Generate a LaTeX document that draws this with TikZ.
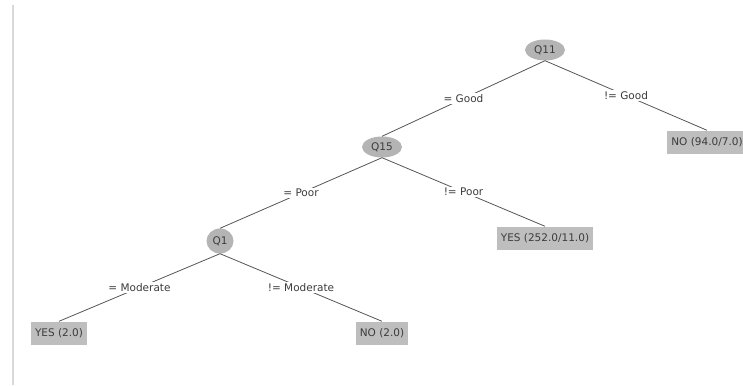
\documentclass[tikz,border=0pt]{standalone}
\usepackage{fontspec}
\usetikzlibrary{shapes.geometric}
\newfontfamily\dlgfont{DejaVu Sans}
\definecolor{nodegray}{HTML}{B4B4B4}
\definecolor{leafgray}{HTML}{BEBEBE}
\definecolor{edgegray}{HTML}{555555}
\definecolor{textgray}{HTML}{3C3C3C}
\tikzstyle{split}=[ellipse,fill=nodegray,minimum width=40pt,minimum height=21pt,inner sep=0pt,text=textgray]
\tikzstyle{leaf}=[rectangle,fill=leafgray,minimum height=23pt,inner xsep=4pt,inner ysep=0pt,text=textgray]
\tikzstyle{cond}=[fill=white,inner sep=1.5pt,text=textgray]

\begin{document}
\begin{tikzpicture}[x=1pt,y=-1pt,font=\dlgfont\fontsize{10.5}{12}\selectfont]
    \useasboundingbox (0,0) rectangle (743,385);
    \clip (0,0) rectangle (743,385);
    \draw[line width=2.5pt,black!15] (13,5) -- (13,385);
    \node[split] (q11) at (545,50)  {Q11};
    \node[split] (q15) at (382,147) {Q15};
    \node[split,minimum width=27pt,minimum height=25pt] (q1) at (220,241) {Q1};
    \node[leaf] (no94) at (707,142) {NO (94.0/7.0)};
    \node[leaf] (yes252) at (545,238) {YES (252.0/11.0)};
    \node[leaf] (yes2) at (59,333) {YES (2.0)};
    \node[leaf] (no2) at (382,333) {NO (2.0)};

    \foreach \from/\to/\lbl in {q11/q15/{= Good},q11/no94/{!= Good},q15/q1/{= Poor},q15/yes252/{!= Poor},q1/yes2/{= Moderate},q1/no2/{!= Moderate}}
    \draw[edgegray,line width=0.8pt] (\from.south) -- node[cond] {\lbl} (\to.north);
\end{tikzpicture}
\end{document}
